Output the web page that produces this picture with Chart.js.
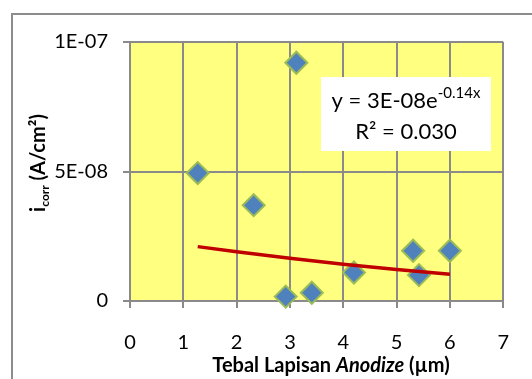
<!DOCTYPE html>
<html>
<head>
<meta charset="utf-8">
<script src="https://cdn.jsdelivr.net/npm/chart.js@4.4.0/dist/chart.umd.min.js"></script>
<style>
  html, body { margin: 0; padding: 0; background: #fff; }
  #wrap { width: 532px; height: 379px; position: relative; }
</style>
</head>
<body>
<div id="wrap"><canvas id="myChart" width="532" height="379"></canvas></div>
<script>
// data
var thickness = [1.27, 2.32, 3.12, 2.92, 3.41, 4.20, 5.31, 5.42, 6.00];
var icorr = [4.94e-8, 3.7e-8, 9.2e-8, 1.7e-9, 3.2e-9, 1.1e-8, 1.94e-8, 1.0e-8, 1.94e-8];
var trendX = [1.27, 2, 3, 4, 5, 6];
var trendY = [2.1e-8, 1.9e-8, 1.65e-8, 1.42e-8, 1.22e-8, 1.03e-8];
var yTickLabels = { 0: "0", 5: "5E-08", 10: "1E-07" };
var eqText = "y = 3E-08e";
var eqSup = "-0.14x";
var r2Text = "R\u00b2 = 0.030";

var FONT = "Lato, 'Open Sans', sans-serif";
var gridColor = "#8a8a8a";

function toPoints(xs, ys) {
  var pts = [];
  for (var i = 0; i < xs.length; i++) {
    pts.push({ x: xs[i], y: ys[i] });
  }
  return pts;
}

// frame, yellow plot area, axis titles and the equation box
var decorations = {
  id: "decorations",
  beforeDraw: function(chart) {
    var ctx = chart.ctx;
    var a = chart.chartArea;
    ctx.save();
    ctx.strokeStyle = "#8c8c8c";
    ctx.lineWidth = 2;
    ctx.strokeRect(12, 14, 600, 500);
    ctx.fillStyle = "#ffff80";
    ctx.fillRect(a.left, a.top, a.right - a.left, a.bottom - a.top);
    ctx.restore();
  },
  afterDraw: function(chart) {
    var ctx = chart.ctx;
    ctx.save();
    ctx.fillStyle = "#000";
    ctx.textBaseline = "alphabetic";

    // x title, "Anodize" in italics
    var parts = [
      { t: "Tebal Lapisan ", f: "bold 20px " + FONT },
      { t: "Anodize", f: "italic bold 20px " + FONT },
      { t: " (\u00b5m)", f: "bold 20px " + FONT }
    ];
    var total = 0;
    parts.forEach(function(p) {
      ctx.font = p.f;
      p.w = ctx.measureText(p.t).width;
      total += p.w;
    });
    var x = 331 - total / 2;
    parts.forEach(function(p) {
      ctx.font = p.f;
      ctx.fillText(p.t, x, 372);
      x += p.w;
    });

    // y title, rotated, with subscript
    ctx.save();
    ctx.translate(45, 163);
    ctx.rotate(-Math.PI / 2);
    var yp = [
      { t: "i", f: "bold 20px " + FONT, dy: 0 },
      { t: "corr", f: "bold 12px " + FONT, dy: 4 },
      { t: " (A/cm\u00b2)", f: "bold 20px " + FONT, dy: 0 }
    ];
    total = 0;
    yp.forEach(function(p) {
      ctx.font = p.f;
      p.w = ctx.measureText(p.t).width;
      total += p.w;
    });
    x = -total / 2;
    yp.forEach(function(p) {
      ctx.font = p.f;
      ctx.fillText(p.t, x, p.dy);
      x += p.w;
    });
    ctx.restore();

    // equation box
    ctx.fillStyle = "#fff";
    ctx.fillRect(321, 77, 170, 74);
    ctx.fillStyle = "#000";
    ctx.font = "22px " + FONT;
    var w1 = ctx.measureText(eqText).width;
    ctx.font = "15px " + FONT;
    var w2 = ctx.measureText(eqSup).width;
    var sx = 406 - (w1 + w2) / 2;
    ctx.font = "22px " + FONT;
    ctx.fillText(eqText, sx, 108);
    ctx.font = "15px " + FONT;
    ctx.fillText(eqSup, sx + w1, 98);
    ctx.font = "22px " + FONT;
    ctx.textAlign = "center";
    ctx.fillText(r2Text, 406, 139);
    ctx.restore();
  }
};

var ctx = document.getElementById("myChart").getContext("2d");
var myChart = new Chart(ctx, {
  type: "scatter",
  data: {
    datasets: [
      {
        label: "Trend",
        type: "line",
        data: toPoints(trendX, trendY),
        borderColor: "#c00000",
        borderWidth: 3.5,
        pointRadius: 0,
        fill: false,
        tension: 0,
        order: 0
      },
      {
        label: "icorr",
        data: toPoints(thickness, icorr),
        pointStyle: "rectRot",
        pointRadius: 11,
        pointHoverRadius: 11,
        backgroundColor: "#4f81bd",
        borderColor: "#9bbb59",
        borderWidth: 2,
        clip: false,
        order: 1
      }
    ]
  },
  options: {
    responsive: false,
    animation: false,
    events: [],
    layout: { padding: { left: 0, right: 28, top: 42, bottom: 0 } },
    plugins: {
      legend: { display: false },
      tooltip: { enabled: false }
    },
    scales: {
      x: {
        type: "linear",
        min: 0,
        max: 7,
        afterFit: function(s) { s.height = 78; },
        ticks: {
          stepSize: 1,
          color: "#000",
          padding: 23,
          font: { family: FONT, size: 20 }
        },
        grid: { color: gridColor, lineWidth: 2, tickLength: 7 },
        border: { color: gridColor, width: 2 }
      },
      y: {
        min: 0,
        max: 1e-7,
        afterFit: function(s) { s.width = 130; },
        ticks: {
          stepSize: 5e-8,
          color: "#000",
          padding: 15,
          font: { family: FONT, size: 20 },
          callback: function(v) {
            return yTickLabels[Math.round(v / 1e-8)];
          }
        },
        grid: { color: gridColor, lineWidth: 2, tickLength: 7 },
        border: { color: gridColor, width: 2 }
      }
    }
  },
  plugins: [decorations]
});
</script>
</body>
</html>
